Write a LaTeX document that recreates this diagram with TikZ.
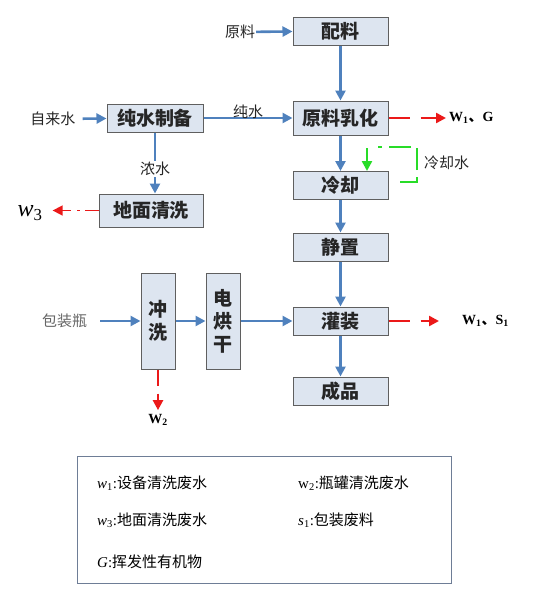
\documentclass[tikz,border=0pt]{standalone}
\usepackage{fontspec}
\setmainfont{Liberation Serif}
\newfontfamily\cjk{Noto Sans CJK SC}
\usetikzlibrary{arrows.meta}

\definecolor{boxfill}{RGB}{221,229,240}
\definecolor{boxline}{RGB}{95,95,95}
\definecolor{flowblue}{RGB}{79,129,189}
\definecolor{wastered}{RGB}{235,25,25}
\definecolor{coolgreen}{RGB}{40,220,40}
\definecolor{legendline}{RGB}{110,125,150}

\begin{document}
\begin{tikzpicture}[x=1pt,y=-1pt,
  proc/.style={draw=boxline,line width=1pt,fill=boxfill,minimum width=95pt,minimum height=28pt,inner sep=0pt,text=black!85,font=\cjk\bfseries\fontsize{19}{23}\selectfont},
  tall/.style={proc,minimum width=34pt,minimum height=96pt,align=center},
  lbl/.style={inner sep=1pt,text=black!85,font=\cjk\fontsize{15}{18}\selectfont},
  flow/.style={draw=flowblue,line width=2.6pt,-{Triangle[length=10pt,width=10pt]}},
  waste/.style={draw=wastered,line width=2.4pt,-{Triangle[length=10pt,width=10pt]},dash pattern=on 21pt off 11pt},
  wastelbl/.style={inner sep=0pt,font=\bfseries\fontsize{14}{16}\selectfont},
  keytext/.style={anchor=west,inner sep=0pt,font=\fontsize{15}{17}\selectfont}]
\useasboundingbox (0,0) rectangle (544,598);
\node[proc] (peiliao) at (340.5,31) {配料};
\node[proc,minimum height=34pt] (ruhua) at (340.5,118) {原料乳化};
\node[proc] (lengque) at (340.5,185.5) {冷却};
\node[proc] (jingzhi) at (340.5,247) {静置};
\node[proc] (guanzhuang) at (340.5,321) {灌装};
\node[proc] (chengpin) at (340.5,391) {成品};
\node[proc,minimum width=96pt] (chunshui) at (155,118) {纯水制备};
\node[proc,minimum width=104pt,minimum height=33pt] (dimian) at (151,210.5) {地面清洗};
\node[tall] (chongxi) at (158,321) {冲\\洗};
\node[tall] (hongan) at (223,321) {电\\烘\\干};

\node[lbl] (yuanliao) at (240,32) {原料};
\node[lbl] (zilai) at (53,119) {自来水};
\node[lbl,text=black!60] (baozhuang) at (64.5,321) {包装瓶};
\node[lbl,anchor=west] (lengqueshui) at (423,163) {冷却水};

\node[wastelbl,anchor=west] (w1g) at (449,118) {W\textsubscript{1}{\cjk 、}G};
\node[wastelbl,anchor=west] (w1s) at (462,321) {W\textsubscript{1}{\cjk 、}S\textsubscript{1}};
\node[wastelbl] (w2) at (158,420) {W\textsubscript{2}};
\node[inner sep=0pt,font=\fontsize{24}{26}\selectfont] (w3) at (30,213) {\textit{w}\textsubscript{3}};

\draw[flow] (yuanliao) -- (peiliao);
\draw[flow] (peiliao) -- (ruhua);
\draw[flow,shorten <=6pt] (zilai) -- (chunshui);
\draw[flow] (chunshui) -- node[lbl,yshift=6pt] {纯水} (ruhua);
\draw[flow] (chunshui.south) -- node[lbl,fill=white,pos=0.6] {浓水} (chunshui.south |- dimian.north);
\draw[flow] (ruhua) -- (lengque);
\draw[flow] (lengque) -- (jingzhi);
\draw[flow] (jingzhi) -- (guanzhuang);
\draw[flow] (guanzhuang) -- (chengpin);
\draw[flow,shorten <=12pt] (baozhuang) -- (chongxi);
\draw[flow] (chongxi) -- (hongan);
\draw[flow] (hongan) -- (guanzhuang);

\draw[waste,shorten >=3pt] (ruhua) -- (w1g);
\draw[waste,shorten >=23pt] (guanzhuang) -- (w1s);
\draw[waste,dash pattern=on 16pt off 8pt,shorten >=4pt] (chongxi) -- (w2);
\draw[waste,line width=1.6pt,dash pattern=on 14pt off 5pt on 3pt off 6pt,shorten >=10pt] (dimian.west) -- (dimian.west -| w3.east);

% cooling water loop
\coordinate (cw1) at (400,182);
\coordinate (cw2) at (417,147);
\coordinate (cw3) at (378,147);
\coordinate (cwin) at (367,148);
\draw[coolgreen,line width=2.4pt,dash pattern=on 22pt off 7pt] (cw1) -| (cw2) -- (cw3);
\draw[coolgreen,line width=2.4pt,-{Triangle[length=10pt,width=10pt]}] (cwin) -- (cwin |- lengque.north);

% legend
\node[draw=legendline,line width=1pt,minimum width=374pt,minimum height=127pt,inner sep=0pt] (legendbox) at (264,519.5) {};
\node[keytext] (k1) at (97,483) {\textit{w}\textsubscript{1}:{\cjk 设备清洗废水}};
\node[keytext] (k2) at (298,483) {w\textsubscript{2}:{\cjk 瓶罐清洗废水}};
\node[keytext] (k3) at (97,520) {\textit{w}\textsubscript{3}:{\cjk 地面清洗废水}};
\node[keytext] (k4) at (298,520) {\textit{s}\textsubscript{1}:{\cjk 包装废料}};
\node[keytext] (k5) at (97,562) {\textit{G}:{\cjk 挥发性有机物}};
\end{tikzpicture}
\end{document}
